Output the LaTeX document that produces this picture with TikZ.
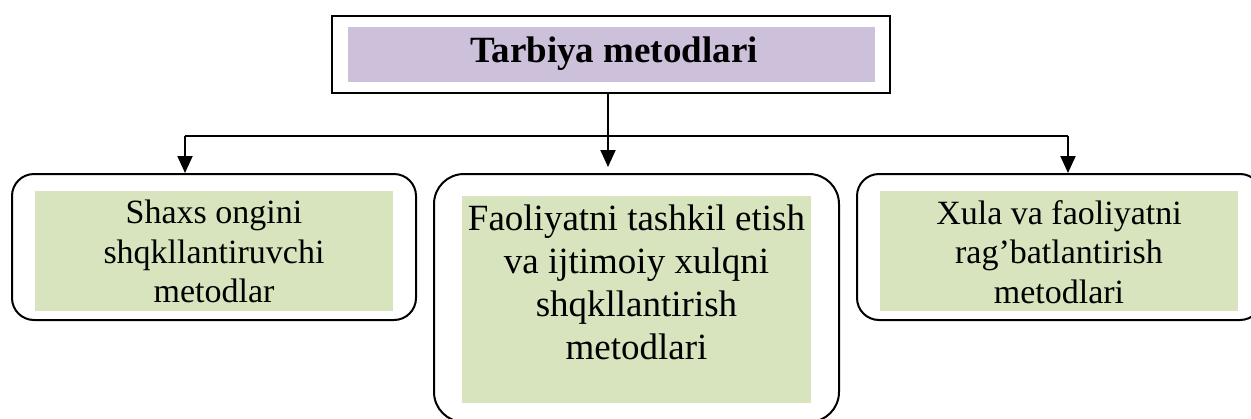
\documentclass[tikz,border=0pt]{standalone}
\usepackage{fontspec}
\setmainfont{Liberation Serif}
\usepackage{tikz}
\usetikzlibrary{arrows.meta}

\definecolor{lilac}{HTML}{CCC0DA}
\definecolor{sage}{HTML}{D7E4BD}

\tikzset{
  frame/.style={draw=black, line width=2pt, rounded corners=22pt},
  fillbox/.style={fill=sage, draw=none},
  label/.style={inner sep=0pt, align=center, anchor=north},
  arr/.style={line width=2pt, -{Triangle[length=17pt,width=15pt]}},
}

\begin{document}
\begin{tikzpicture}[x=1pt, y=-1pt]
            \useasboundingbox (0,0) rectangle (1251,418);
            \node[draw, line width=2pt, minimum width=558pt, minimum height=77pt, inner sep=0pt] (title) at (611,54.5) {};
            \node[fill=lilac, minimum width=527pt, minimum height=55pt, inner sep=0pt] (titlefill) at (611.5,54.5) {};
            \node[inner sep=0pt, anchor=base, font=\fontsize{37}{43}\selectfont\bfseries] (titletext) at (614,62) {Tarbiya metodlari};

            \node[frame, minimum width=404pt, minimum height=146pt, inner sep=0pt] (lbox) at (214,247) {};
            \node[fillbox, minimum width=358pt, minimum height=120pt, inner sep=0pt] (lfill) at (214,251) {};
            \node[label, font=\fontsize{34}{39.5}\selectfont] (ltext) at (214,200) {Shaxs ongini\\shqkllantiruvchi\\metodlar};

            \node[frame, rounded corners=30pt, minimum width=405pt, minimum height=248pt, inner sep=0pt] (mbox) at (636.5,298) {};
            \node[fillbox, minimum width=349pt, minimum height=207pt, inner sep=0pt] (mfill) at (636.5,299.5) {};
            \node[label, font=\fontsize{37}{43}\selectfont] (mtext) at (636.5,205) {Faoliyatni tashkil etish\\va ijtimoiy xulqni\\shqkllantirish\\metodlari};

            \node[frame, minimum width=405pt, minimum height=146pt, inner sep=0pt] (rbox) at (1059.5,247) {};
            \node[fillbox, minimum width=358pt, minimum height=120pt, inner sep=0pt] (rfill) at (1059,251) {};
            \node[label, font=\fontsize{34}{39.5}\selectfont] (rtext) at (1059,200) {Xula va faoliyatni\\rag’batlantirish\\metodlari};

            % connectors
            \coordinate (jl) at (185,136);
            \coordinate (jr) at (1068,136);
            \coordinate (jm) at (608,0);
            \draw[arr] (jm |- title.south) -- ([yshift=6pt]jm |- mbox.north);
            \draw[line width=2pt] (jl) -- (jr);
            \draw[arr] (jl) -- (jl |- lbox.north);
            \draw[arr] (jr) -- (jr |- rbox.north);
        \end{tikzpicture}
\end{document}
